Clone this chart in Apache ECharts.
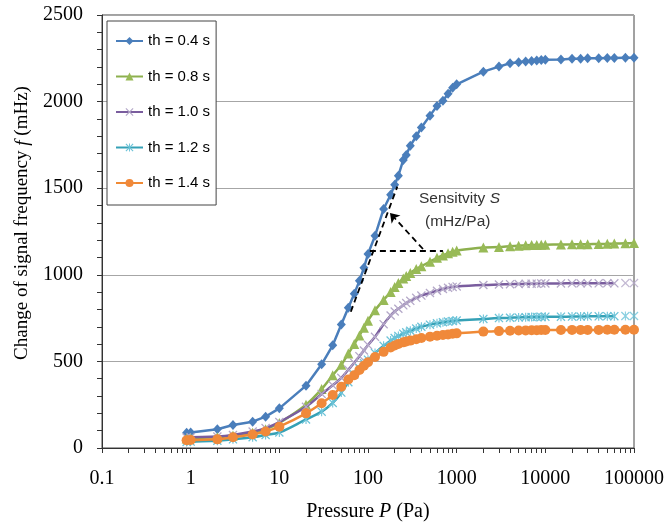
<!DOCTYPE html>
<html><head><meta charset="utf-8">
<script src="https://cdn.jsdelivr.net/npm/echarts@6/dist/echarts.min.js"></script>
<style>html,body{margin:0;padding:0;background:#fff}#c{width:667px;height:528px}</style>
</head><body><div id="c"></div>
<script>
// Pressure (Pa)
const pressure = [0.9, 1, 2, 3, 5, 7, 10, 20, 30, 40, 50, 60, 70, 80, 90,
  100, 120, 150, 180, 200, 220, 250, 270, 300, 350, 400, 500, 600, 700, 800, 900,
  1000, 2000, 3000, 4000, 5000, 6000, 7000, 8000, 9000,
  10000, 15000, 20000, 25000, 30000, 40000, 50000, 60000, 80000, 100000];
// Change of signal frequency (mHz)
const th04 = [88, 90, 108, 133, 152, 181, 229, 360, 483, 593, 713, 810, 890, 965, 1040,
  1120, 1225, 1380, 1462, 1520, 1572, 1663, 1692, 1745, 1800, 1850, 1919, 1975, 2005, 2045, 2080,
  2100, 2173, 2202, 2221, 2227, 2232, 2235, 2238, 2240,
  2241, 2243, 2247, 2248, 2250, 2251, 2252, 2252, 2253, 2253];
const th08 = [55, 58, 62, 72, 88, 108, 145, 250, 340, 420, 480, 545, 600, 650, 695,
  735, 795, 855, 900, 930, 952, 978, 993, 1010, 1033, 1050, 1076, 1098, 1112, 1124, 1133,
  1140, 1158, 1160, 1165, 1168, 1170, 1172, 1172, 1173,
  1174, 1175, 1176, 1177, 1177, 1178, 1179, 1180, 1182, 1183];
const th10 = [60, 62, 66, 75, 95, 115, 150, 238, 312, 362, 405, 452, 492, 530, 563,
  595, 642, 715, 765, 788, 804, 824, 837, 850, 867, 880, 895, 908, 918, 925, 930,
  933, 941, 944, 946, 947, 948, 949, 949, 950,
  950, 950, 951, 951, 951, 951, 951, 951, 952, 952];
const th12 = [35, 37, 42, 50, 62, 75, 90, 165, 210, 260, 320, 380, 425, 460, 490,
  510, 548, 590, 620, 635, 647, 660, 668, 677, 690, 700, 712, 720, 726, 730, 733,
  736, 745, 750, 752, 754, 755, 756, 757, 757,
  758, 758, 759, 759, 760, 760, 761, 761, 762, 762];
const th14 = [45, 46, 50, 62, 78, 95, 123, 200, 258, 306, 354, 395, 420, 450, 475,
  495, 525, 555, 580, 592, 600, 610, 615, 620, 628, 635, 643, 648, 652, 656, 660,
  662, 672, 675, 677, 678, 679, 680, 680, 681,
  681, 681, 682, 682, 682, 682, 683, 683, 683, 683];
const seriesNames = ['th = 0.4 s', 'th = 0.8 s', 'th = 1.0 s', 'th = 1.2 s', 'th = 1.4 s'];
// axis ticks
const xTickLabels = [0.1, 1, 10, 100, 1000, 10000, 100000];
const xTickMarks = [0.1, 0.2, 0.3, 0.4, 0.5, 0.6, 0.7, 0.8, 0.9,
  1, 2, 3, 4, 5, 6, 7, 8, 9,
  10, 20, 30, 40, 50, 60, 70, 80, 90,
  100, 200, 300, 400, 500, 600, 700, 800, 900,
  1000, 2000, 3000, 4000, 5000, 6000, 7000, 8000, 9000,
  10000, 20000, 30000, 40000, 50000, 60000, 70000, 80000, 90000, 100000];
const yTicks = [0, 500, 1000, 1500, 2000, 2500];
// annotation (data coordinates)
const tangentLine = [[64, 787], [214, 1509]];
const plateauLine = [[105, 1140], [700, 1140]];
const arrowArc = [[417, 1149], [177, 1357]];
const lineEndP = 60000; // fitted lines of th=1.0 s and 1.2 s end here

const pairs = (vals) => pressure.map((p, i) => [p, vals[i]]);
const head = (vals) => pairs(vals).filter(d => d[0] <= lineEndP);
const tail = (vals) => pairs(vals).filter(d => d[0] > lineEndP);

const X_PATH = 'path://M0,1L1,0L5,4L9,0L10,1L6,5L10,9L9,10L5,6L1,10L0,9L4,5Z';
const STAR_PATH = 'path://M0,1L1,0L5,4L9,0L10,1L6,5L10,9L9,10L5,6L1,10L0,9L4,5ZM4.4,0L5.6,0L5.6,10L4.4,10Z';

const dash = {color: '#000', type: [6, 4], width: 1.8};
const chart = echarts.init(document.getElementById('c'), null, {renderer: 'canvas'});
const option = {
  animation: false,
  backgroundColor: '#fff',
  grid: {left: 102, right: 33, top: 15, bottom: 80, show: true, borderColor: '#444', borderWidth: 1, outerBoundsMode: 'none'},
  legend: {
    data: seriesNames,
    orient: 'vertical', left: 107, top: 21,
    padding: [11, 6, 13, 8], itemGap: 17.5, itemWidth: 27, itemHeight: 10,
    backgroundColor: '#fff', borderColor: '#444', borderWidth: 1,
    textStyle: {fontFamily: 'Liberation Sans', fontSize: 15, color: '#000', lineHeight: 18}
  },
  xAxis: {
    type: 'log', logBase: 10, min: 0.1, max: 100000,
    axisLine: {lineStyle: {color: '#333', width: 1}},
    axisTick: {show: true, inside: false, length: 5, customValues: xTickMarks, lineStyle: {color: '#333'}},
    minorTick: {show: false},
    splitLine: {show: false},
    axisLabel: {customValues: xTickLabels, margin: 21, fontFamily: 'Liberation Serif', fontSize: 20, color: '#000',
      formatter: v => String(+Number(v).toPrecision(6))},
    name: 'Pressure {i|P} (Pa)', nameLocation: 'middle', nameGap: 54,
    nameTextStyle: {fontFamily: 'Liberation Serif', fontSize: 20, color: '#000',
      rich: {i: {fontFamily: 'Liberation Serif', fontSize: 20, fontStyle: 'italic', color: '#000'}}}
  },
  yAxis: {
    type: 'value', min: yTicks[0], max: yTicks[yTicks.length - 1], interval: 500,
    axisLine: {show: true, lineStyle: {color: '#333', width: 1}},
    axisTick: {show: true, length: 5, lineStyle: {color: '#333'}},
    minorTick: {show: true, splitNumber: 5, length: 5, lineStyle: {color: '#333'}},
    splitLine: {show: true, lineStyle: {color: '#a6a6a6', width: 1}},
    axisLabel: {margin: 19, fontFamily: 'Liberation Serif', fontSize: 20, color: '#000',
      formatter: v => String(v)},
    name: 'Change of signal frequency {i|f} (mHz)', nameLocation: 'middle', nameGap: 70,
    nameTextStyle: {fontFamily: 'Liberation Serif', fontSize: 19, color: '#000', padding: [0, 0, 0, 17],
      rich: {i: {fontFamily: 'Liberation Serif', fontSize: 19, fontStyle: 'italic', color: '#000'}}}
  },
  series: [
    {name: seriesNames[0], type: 'line', data: pairs(th04), symbol: 'diamond', symbolSize: [9, 10],
      lineStyle: {color: '#4A7EBB', width: 2.5}, itemStyle: {color: '#4A7EBB'}, z: 2,
      markLine: {silent: true, animation: false, symbol: 'none', label: {show: false}, lineStyle: dash,
        emphasis: {disabled: true},
        data: [
          [{coord: tangentLine[0]}, {coord: tangentLine[1]}],
          [{coord: plateauLine[0]}, {coord: plateauLine[1]}],
          [{coord: arrowArc[0], symbol: 'none', lineStyle: {curveness: -0.6}}, {coord: arrowArc[1], symbol: 'arrow', symbolSize: 9}]
        ]}},
    {name: seriesNames[1], type: 'line', data: pairs(th08), symbol: 'triangle', symbolSize: 10, smooth: 0.2,
      lineStyle: {color: '#8DB04E', width: 2.5}, itemStyle: {color: '#98BA57'}, z: 3},
    {name: seriesNames[2], type: 'line', data: head(th10), symbol: X_PATH, symbolSize: 9, smooth: 0.4,
      lineStyle: {color: '#7A5D9E', width: 2.5}, itemStyle: {color: '#B4A8C8'}, z: 4},
    {name: seriesNames[3], type: 'line', data: head(th12), symbol: STAR_PATH, symbolSize: 9, smooth: 0.4,
      lineStyle: {color: '#35A1B6', width: 2.5}, itemStyle: {color: '#6CC3D8'}, z: 5},
    {name: seriesNames[4], type: 'line', data: pairs(th14), symbol: 'circle', symbolSize: 10, smooth: 0.2,
      lineStyle: {color: '#F08A35', width: 2.5}, itemStyle: {color: '#F0893A'}, z: 6},
    {name: 'tail10', type: 'scatter', data: tail(th10), symbol: X_PATH, symbolSize: 9, itemStyle: {color: '#B4A8C8'}, z: 4},
    {name: 'tail12', type: 'scatter', data: tail(th12), symbol: STAR_PATH, symbolSize: 9, itemStyle: {color: '#6CC3D8'}, z: 5}
  ],
  graphic: [
    {type: 'text', left: 419, top: 191, silent: true,
      style: {text: 'Sensitvity {i|S}', fontFamily: 'Liberation Sans', fontSize: 15.5, fill: '#333',
        rich: {i: {fontFamily: 'Liberation Sans', fontSize: 15.5, fontStyle: 'italic', fill: '#333'}}}},
    {type: 'text', left: 425, top: 214, silent: true,
      style: {text: '(mHz/Pa)', fontFamily: 'Liberation Sans', fontSize: 15.5, fill: '#333'}}
  ]
};
chart.setOption(option);
</script>
</body></html>
